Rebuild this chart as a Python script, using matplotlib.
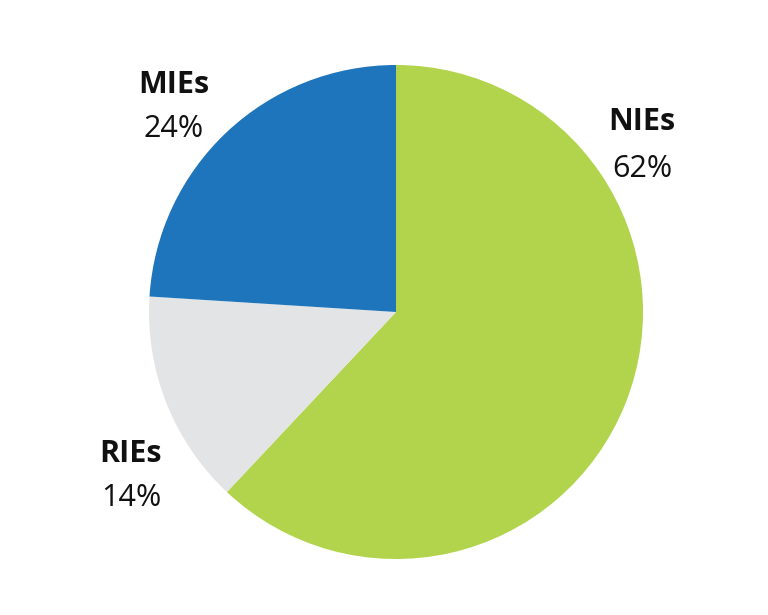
import matplotlib.pyplot as plt

plt.rcParams['font.family'] = ['Open Sans', 'DejaVu Sans']

# Дані
labels = ["NIEs", "RIEs", "MIEs"]
shares = [62, 14, 24]
colors = ["#b2d44c", "#e3e4e6", "#1f75bc"]

W, H = 768, 615
fig = plt.figure(figsize=(W / 100, H / 100), dpi=100)

# Коло: центр (396, 312), радіус 247 пікселів
cx, cy, r = 396, 312, 247
ax = fig.add_axes([(cx - r) / W, (H - cy - r) / H, 2 * r / W, 2 * r / H])
ax.pie(shares, colors=colors, startangle=90, counterclock=False,
       radius=1, wedgeprops=dict(linewidth=0))
ax.set_xlim(-1, 1)
ax.set_ylim(-1, 1)
ax.set_aspect("equal")
ax.axis("off")

# Підписи: центр по x, базова лінія назви, базова лінія відсотка (пікселі)
label_pos = {"NIEs": (642, 130, 177),
             "RIEs": (131, 462, 506),
             "MIEs": (174, 93, 137)}

for name, val in zip(labels, shares):
    x, y1, y2 = label_pos[name]
    fig.text(x / W, (H - y1) / H, name, ha="center", va="baseline",
             fontsize=22, fontweight="bold", color="#111111")
    fig.text(x / W, (H - y2) / H, f"{val}%", ha="center", va="baseline",
             fontsize=22, color="#111111")

fig.savefig("out.png", dpi=100)
